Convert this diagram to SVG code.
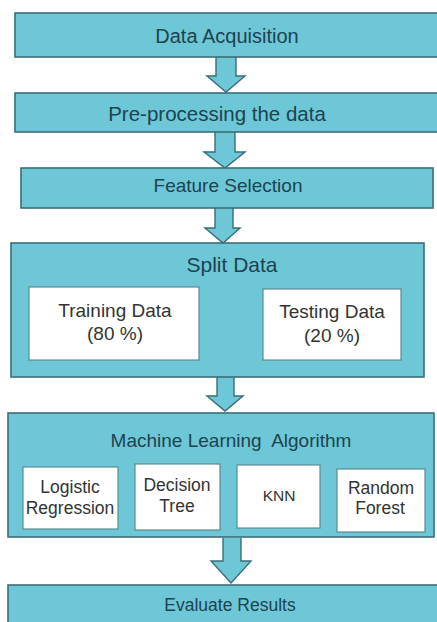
<svg xmlns="http://www.w3.org/2000/svg" width="437" height="622" viewBox="0 0 437 622">
<style>
.box{fill:#6dc7d7;stroke:#3b6d77;stroke-width:1.6}
.inner{fill:#ffffff;stroke:#5b8a92;stroke-width:1.2}
.arrow{fill:#6dc7d7;stroke:#3b6d77;stroke-width:1.4;stroke-linejoin:miter}
.t{font-family:"Liberation Sans",Arial,sans-serif;fill:#1d4350;text-anchor:middle}
.s{font-family:"Liberation Sans",Arial,sans-serif;fill:#333333;text-anchor:middle}
</style>
<rect width="437" height="622" fill="#ffffff"/>
<g id="connectors">
<path class="arrow" d="M216,57 V76 H207 L226,92 L245,76 H236 V57"/>
<path class="arrow" d="M215,132 V152 H204 L225,168 L245,152 H235 V132"/>
<path class="arrow" d="M215,208 V228 H205 L223,243 L240,228 H233 V208"/>
<path class="arrow" d="M217,377 V396 H207 L225,411 L243,396 H234 V377"/>
<path class="arrow" d="M223,538 V561 H211 L231,583 L251,561 H241 V538"/>
</g>
<g id="data-acquisition">
<rect class="box" x="15" y="13" width="430" height="44"/>
<text class="t" x="227" y="43" font-size="20">Data Acquisition</text>
</g>
<g id="pre-processing">
<rect class="box" x="15" y="93" width="430" height="39"/>
<text class="t" x="217" y="121" font-size="20.5">Pre-processing the data</text>
</g>
<g id="feature-selection">
<rect class="box" x="21" y="168" width="412" height="40"/>
<text class="t" x="228" y="192" font-size="19">Feature Selection</text>
</g>
<g id="split-data">
<rect class="box" x="11" y="243" width="413" height="134"/>
<text class="t" x="232" y="272" font-size="21">Split Data</text>
<g id="training-data">
<rect class="inner" x="29" y="287" width="170" height="73"/>
<text class="s" x="115" y="317" font-size="19">Training Data</text>
<text class="s" x="115" y="340" font-size="19">(80 %)</text>
</g>
<g id="testing-data">
<rect class="inner" x="263" y="289" width="138" height="71"/>
<text class="s" x="332" y="318" font-size="19">Testing Data</text>
<text class="s" x="332" y="342" font-size="19">(20 %)</text>
</g>
</g>
<g id="ml-algorithm">
<rect class="box" x="8" y="413" width="426" height="124"/>
<text class="t" x="231" y="447" font-size="19" xml:space="preserve" style="white-space:pre">Machine Learning  Algorithm</text>
<g id="logistic-regression">
<rect class="inner" x="23" y="467" width="95" height="62"/>
<text class="s" x="70" y="493" font-size="17.5">Logistic</text>
<text class="s" x="70" y="514" font-size="17.5">Regression</text>
</g>
<g id="decision-tree">
<rect class="inner" x="135" y="464" width="85" height="66"/>
<text class="s" x="177" y="491" font-size="17.5">Decision</text>
<text class="s" x="177" y="512" font-size="17.5">Tree</text>
</g>
<g id="knn">
<rect class="inner" x="237" y="465" width="83" height="63"/>
<text class="s" x="279" y="501" font-size="15.5">KNN</text>
</g>
<g id="random-forest">
<rect class="inner" x="337" y="469" width="88" height="63"/>
<text class="s" x="381" y="494" font-size="17.5">Random</text>
<text class="s" x="380" y="514" font-size="17.5">Forest</text>
</g>
</g>
<g id="evaluate-results">
<rect class="box" x="8" y="585" width="440" height="50"/>
<text class="t" x="230" y="611" font-size="17.5">Evaluate Results</text>
</g>
</svg>
